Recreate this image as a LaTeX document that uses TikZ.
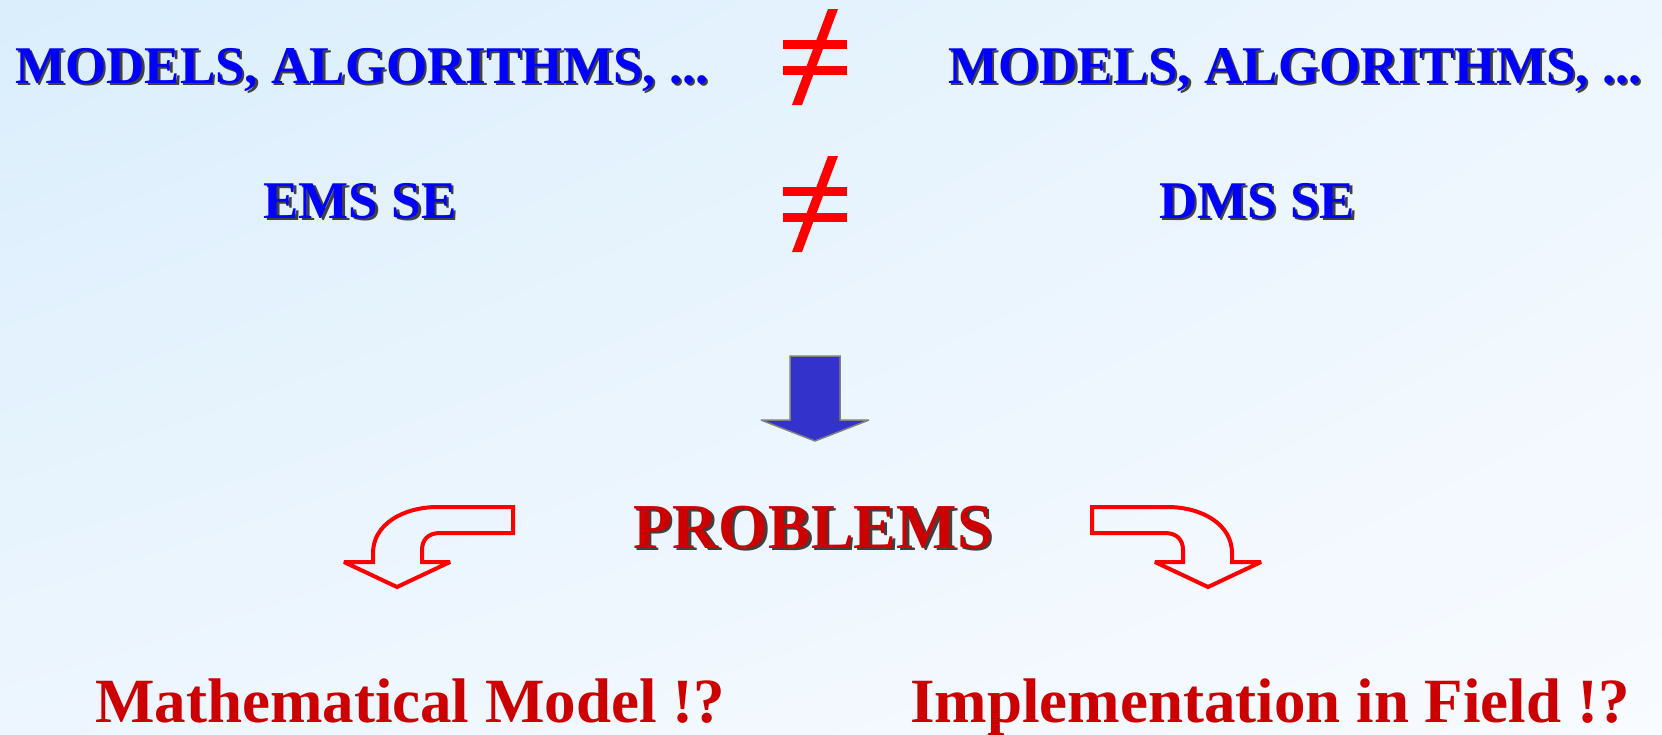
\documentclass[tikz,border=0pt]{standalone}
\usepackage{fontspec}
\setmainfont{Liberation Serif}
\usetikzlibrary{shadings}
\definecolor{txtblue}{HTML}{0000FF}
\definecolor{txtred}{HTML}{CC0000}
\definecolor{symred}{HTML}{FF0000}
\definecolor{arrblue}{HTML}{3333CC}
\definecolor{bgA}{HTML}{DAEEFC}
\definecolor{bgB}{HTML}{EDF6FE}
\definecolor{bgC}{HTML}{F8FBFF}
\newcommand\shtext[1]{\leavevmode\rlap{\hspace{2.5pt}\raisebox{-2.5pt}{\color{black!75}#1}}#1}
\tikzset{
  bigblue/.style={anchor=base, inner sep=0pt, text=txtblue, font=\fontsize{53}{60}\selectfont\bfseries},
  probtxt/.style={anchor=base, inner sep=0pt, text=txtred, font=\fontsize{64}{70}\selectfont\bfseries},
  bottxt/.style={anchor=base, inner sep=0pt, text=txtred, font=\fontsize{63}{70}\selectfont\bfseries},
  neqpart/.style={fill=symred, draw=none},
  bentarrow/.style={draw=symred, line width=4pt, line join=miter, miter limit=2, fill=none},
  downarrow/.style={fill=arrblue, draw=gray, line width=1.5pt, line join=miter, miter limit=2}
}
\begin{document}
\begin{tikzpicture}[x=1pt,y=-1pt]
\useasboundingbox (0,0) rectangle (1662,734);
\shade[upper left=bgA, upper right=bgB, lower left=bgB, lower right=bgC] (0,0) rectangle (1662,734);

% top row texts
\node[bigblue] (mL) at (362,83) {\shtext{MODELS, ALGORITHMS, ...}};
\node[bigblue] (mR) at (1295,83) {\shtext{MODELS, ALGORITHMS, ...}};
\node[bigblue] (ems) at (360,218) {\shtext{EMS SE}};
\node[bigblue] (dms) at (1257,218) {\shtext{DMS SE}};

% not-equal signs
\foreach \dy in {0,147}{
  \begin{scope}[yshift=-\dy pt]
    \fill[neqpart] (783,39.5) rectangle (847,48.5);
    \fill[neqpart] (783,66) rectangle (847,75);
    \fill[neqpart] (828,9) -- (838,9) -- (802,105) -- (792,105) -- cycle;
  \end{scope}
}

% blue down arrow
\draw[downarrow] (790,356) -- (840,356) -- (840,420) -- (869,420) -- (815,441) -- (761,420) -- (790,420) -- cycle;

% PROBLEMS
\node[probtxt] (prob) at (813,548) {\shtext{PROBLEMS}};

% bent arrows
\draw[bentarrow] (513,507) -- (438,507) .. controls (402,507) and (373,525) .. (373,553) -- (373,562) -- (344,562) -- (397,587) -- (450,562) -- (422,562) -- (422,550) .. controls (422,540) and (428,533) .. (440,533) -- (513,533) -- cycle;
\draw[bentarrow] (1092,507) -- (1167,507) .. controls (1203,507) and (1232,525) .. (1232,553) -- (1232,562) -- (1261,562) -- (1208,587) -- (1155,562) -- (1183,562) -- (1183,550) .. controls (1183,540) and (1177,533) .. (1165,533) -- (1092,533) -- cycle;

% bottom texts
\node[bottxt] (math) at (410,722) {Mathematical Model !?};
\node[bottxt] (impl) at (1270,722) {Implementation in Field !?};
\end{tikzpicture}
\end{document}
